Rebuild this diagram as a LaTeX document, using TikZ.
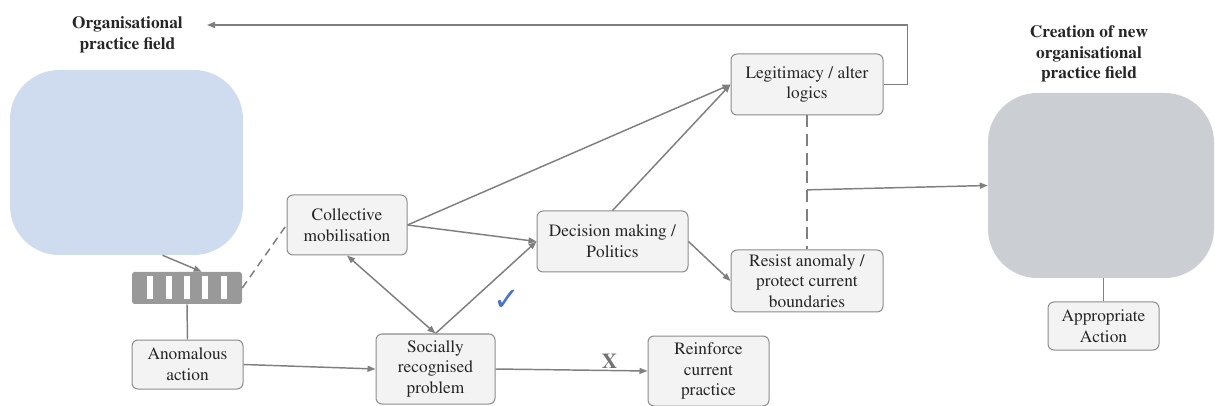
\documentclass[tikz,border=0pt]{standalone}
\usepackage[T1]{fontenc}
\usepackage{fontspec}
\newfontfamily\tickfont{DejaVu Sans}
\newcommand\serifbox{\fontencoding{T1}\fontfamily{ptm}\selectfont}
\usetikzlibrary{arrows.meta,calc}
\definecolor{fieldblue}{HTML}{CFDCF0}
\definecolor{fieldgrey}{HTML}{CBCED3}
\definecolor{boxfill}{HTML}{F3F3F3}
\definecolor{boxline}{HTML}{8C8C8C}
\definecolor{linkgrey}{HTML}{7F7F7F}
\definecolor{tickblue}{HTML}{4A72C8}
\tikzset{
  stagebox/.style={draw=boxline, fill=boxfill, line width=0.75pt, rounded corners=4.5pt,
    align=center, inner sep=1pt, text=black!85, font=\serifbox\fontsize{13}{15.5}\selectfont},
  fieldbox/.style={rounded corners=37pt, inner sep=0pt},
  fieldtitle/.style={align=center, text=black!85, font=\serifbox\fontsize{13}{15.5}\selectfont\bfseries},
  link/.style={draw=linkgrey, line width=1.1pt, -{Triangle[length=6pt,width=4.5pt]}},
  plainlink/.style={draw=linkgrey, line width=1.1pt},
  dashlink/.style={draw=linkgrey, line width=1.1pt, dash pattern=on 6pt off 4pt}
}
\begin{document}
\begin{tikzpicture}[x=0.75pt,y=-0.75pt]
\useasboundingbox (0,0) rectangle (1215,406);
% fields
\node[fieldbox, fill=fieldblue, minimum width=174.75pt, minimum height=138.75pt] (oldfield) at (126.5,162.5) {};
\node[fieldbox, fill=fieldgrey, minimum width=169.5pt, minimum height=138.75pt] (newfield) at (1101,185.5) {};
\node[fieldtitle] (oldtitle) at (127.5,35) {Organisational\\practice field};
\node[fieldtitle] (newtitle) at (1089,54) {Creation of new\\organisational\\practice field};
% striped bar
\node[fill=black!40, rounded corners=2pt, minimum width=82.5pt, minimum height=24pt, inner sep=0pt] (stripes) at (187,288) {};
\foreach \i in {-2,...,2}
  \fill[white] ([shift={(\i*18.3-3,-11.5)}]stripes.center) rectangle ++(6,23);
% stages
\node[stagebox, minimum width=83.25pt, minimum height=36.75pt] (anomalous) at (187.5,364.5) {Anomalous\\action};
\node[stagebox, minimum width=90pt, minimum height=45pt] (collective) at (347,225) {Collective\\mobilisation};
\node[stagebox, minimum width=89.25pt, minimum height=52.5pt] (social) at (435.5,369) {Socially\\recognised\\problem};
\node[stagebox, minimum width=113.25pt, minimum height=45.75pt] (decision) at (612.5,241.5) {Decision making /\\Politics};
\node[stagebox, minimum width=114pt, minimum height=45.75pt] (legit) at (807,84.5) {Legitimacy / alter\\logics};
\node[stagebox, minimum width=114pt, minimum height=46.5pt] (resist) at (807,281) {Resist anomaly /\\protect current\\boundaries};
\node[stagebox, minimum width=90.75pt, minimum height=52.5pt] (reinforce) at (708.5,371) {Reinforce\\current\\practice};
\node[stagebox, minimum width=83.25pt, minimum height=36pt] (approp) at (1103.5,326) {Appropriate\\Action};
\node[text=tickblue, inner sep=0pt, font=\tickfont\fontsize{24}{24}\selectfont] (tick) at (507,300) {✓};
% connectors
\coordinate (back) at (207,25);
\coordinate (split) at ($(legit.south)!0.555!(resist.north)$);
\draw[link] ([xshift=27pt]oldfield.south) -- ([xshift=11pt]stripes.north);
\draw[dashlink] (stripes.east) -- (collective.west);
\draw[plainlink] (stripes.south) -- (anomalous.north);
\draw[link] (anomalous.east) -- (social.west);
\draw[link, {Triangle[length=6pt,width=4.5pt]}-{Triangle[length=6pt,width=4.5pt]}] (collective.south) -- (social.north);
\draw[link] (social.north) -- (decision.west);
\draw[link] (collective.east) -- (decision.west);
\draw[link] (collective.east) -- (legit.west);
\draw[link] (decision.north) -- (legit.west);
\draw[link] (decision.east) -- (resist.west);
\draw[dashlink, dash pattern=on 9pt off 5pt, line width=0.9pt] (legit.south) -- (resist.north);
\draw[link] (split) -- (newfield.west);
\draw[link] (legit.east) -- ++(24,0) |- (back);
\draw[link] (social.east) -- node[pos=0.75, anchor=base, yshift=1.5pt, text=black!55, font=\serifbox\fontsize{16}{16}\selectfont\bfseries] (cross) {X} (reinforce.west);
\draw[plainlink] (approp.north) -- (approp.north |- newfield.south);
\end{tikzpicture}
\end{document}
